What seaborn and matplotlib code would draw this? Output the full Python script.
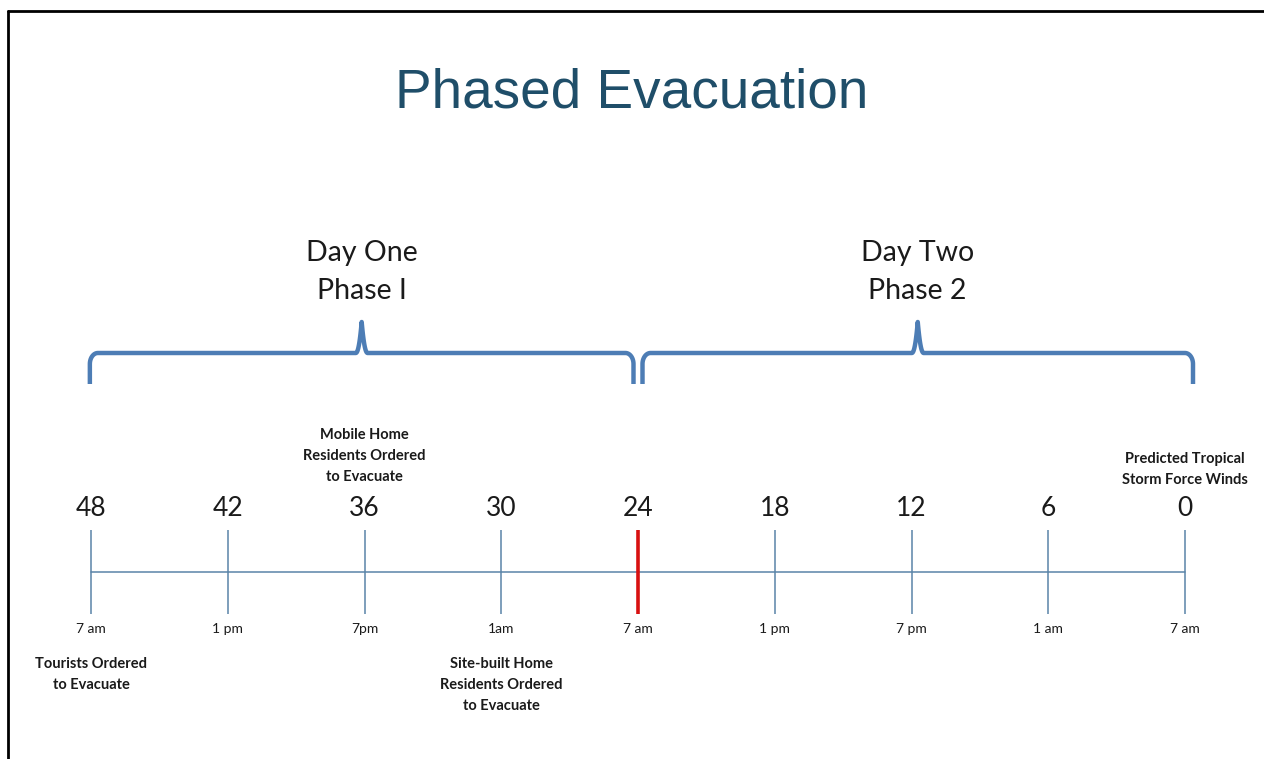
import numpy as np
import pandas as pd
import matplotlib
matplotlib.use("Agg")
import matplotlib.pyplot as plt
import seaborn as sns

# ---------------- data ----------------
hours = [48, 42, 36, 30, 24, 18, 12, 6, 0]
clock_labels = ["7 am", "1 pm", "7pm", "1am", "7 am", "1 pm", "7 pm", "1 am", "7 am"]
highlight_hour = 24

phase_titles = ["Day One\nPhase I", "Day Two\nPhase 2"]
phase_start = [48, 24]
phase_end = [24, 0]

event_hours = [48, 36, 30, 0]
event_texts = ["Tourists Ordered\nto Evacuate",
               "Mobile Home\nResidents Ordered\nto Evacuate",
               "Site-built Home\nResidents Ordered\nto Evacuate",
               "Predicted Tropical\nStorm Force Winds"]
event_above = [False, True, False, True]

title = "Phased Evacuation"

# ---------------- style ----------------
sns.set_theme(style="white")
plt.rcParams["font.family"] = ["Lato", "DejaVu Sans"]

W, H, DPI = 1264, 759, 100
fig = plt.figure(figsize=(W / DPI, H / DPI), dpi=DPI)
ax = fig.add_axes([0, 0, 1, 1])

# x axis in hours (inverted: 48 on the left, 0 on the right); y in layout units (0 top)
px_per_hour = (1185 - 91) / 48.0
ax.set_xlim(48 + 91 / px_per_hour, 0 - (W - 1185) / px_per_hour)
ax.set_ylim(H, 0)
ax.axis("off")

line_col = "#5A84A8"
brace_col = "#4D7DB5"
text_col = "#1a1a1a"

# timeline base line
df = pd.DataFrame({"hour": [hours[0], hours[-1]], "y": [572, 572]})
sns.lineplot(data=df, x="hour", y="y", ax=ax, color=line_col, linewidth=1.1,
             estimator=None, sort=False)

# ticks
for h, lab in zip(hours, clock_labels):
    if h == highlight_hour:
        ax.vlines(h, 530, 614, color="#D81010", linewidth=2.6, zorder=3)
    else:
        ax.vlines(h, 530, 614, color=line_col, linewidth=1.1, zorder=2)
    ax.text(h, 508, str(h), ha="center", va="center", fontsize=19, color=text_col)
    ax.text(h, 629, lab, ha="center", va="center", fontsize=10, color=text_col)

# event annotations
for h, t, above in zip(event_hours, event_texts, event_above):
    if above:
        y_anchor = 484 if t.count("\n") == 2 else 487
        ax.text(h, y_anchor, t, ha="center", va="bottom", fontsize=10.5,
                fontweight="bold", color=text_col, linespacing=1.65)
    else:
        ax.text(h, 657, t, ha="center", va="top", fontsize=10.5,
                fontweight="bold", color=text_col, linespacing=1.65)


# braces
def brace_points(x0, x1):
    """x0 > x1 in hours (left to right on the inverted axis)."""
    hp = 1.0 / px_per_hour  # one pixel in hours
    y_bot, y_top, y_peak = 384, 353, 322
    rx, ry = 8 * hp, 11
    mid = (x0 + x1) / 2
    th = np.linspace(0, np.pi / 2, 20)
    # left leg + corner
    xs = [x0, x0]
    ys = [y_bot, y_top + ry]
    xs += list(x0 - rx * (1 - np.cos(th)))
    ys += list(y_top + ry - ry * np.sin(th))
    # to cusp
    cw = 6 * hp
    t = np.linspace(-1, 1, 41)
    xs += list(mid - t * cw)
    ys += list(y_top - (y_top - y_peak) * (1 - np.abs(t)) ** 2.2)
    # right corner + leg
    xs += list(x1 + rx * (1 - np.cos(th[::-1])))
    ys += list(y_top + ry - ry * np.sin(th[::-1]))
    xs += [x1, x1]
    ys += [y_top + ry, y_bot]
    return np.array(xs), np.array(ys)


gap = 4.5 / px_per_hour
for i, (s, e, lab) in enumerate(zip(phase_start, phase_end, phase_titles)):
    x0 = s - (gap if i > 0 else 0) + (0.05 if i == 0 else 0)
    x1 = e + (gap if i == 0 else -8 / px_per_hour)
    bx, by = brace_points(x0, x1)
    ax.plot(bx, by, color=brace_col, linewidth=3.2, solid_capstyle="butt",
            solid_joinstyle="round")
    ax.text((x0 + x1) / 2, 272, lab, ha="center", va="center", fontsize=20.5,
            color=text_col, linespacing=1.6)

# title
ax.text(0.5, 1 - 93 / H, title, transform=fig.transFigure, ha="center", va="center",
        fontsize=39.5, color="#1F4E69", family=["Liberation Sans"])

# slide frame (top and left edges)
fig.add_artist(plt.Line2D([8 / W, 1], [1 - 11 / H, 1 - 11 / H], transform=fig.transFigure,
                          color="black", linewidth=2))
fig.add_artist(plt.Line2D([8 / W, 8 / W], [0, 1 - 11 / H], transform=fig.transFigure,
                          color="black", linewidth=2))

fig.savefig("out.png", dpi=DPI, facecolor="white")
